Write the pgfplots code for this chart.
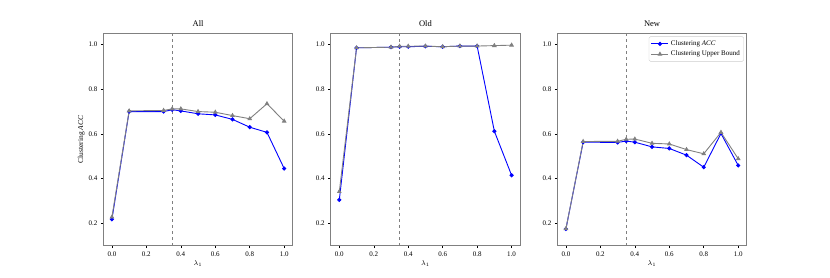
\documentclass[border=0pt]{standalone}
\usepackage{pgfplots}
\pgfplotsset{compat=1.18}
\usepackage{fontspec}
\setmainfont{Liberation Serif}
\definecolor{spine}{RGB}{128,128,128}
\definecolor{ubgray}{RGB}{128,128,128}

\pgfplotstableread{
x acc ub
0.0 0.218 0.228
0.1 0.700 0.703
0.3 0.700 0.705
0.35 0.708 0.712
0.4 0.703 0.712
0.5 0.690 0.700
0.6 0.685 0.697
0.7 0.665 0.682
0.8 0.630 0.668
0.9 0.607 0.735
1.0 0.445 0.657
}\allt
\pgfplotstableread{
x acc ub
0.0 0.305 0.342
0.1 0.985 0.985
0.3 0.988 0.988
0.35 0.990 0.992
0.4 0.990 0.992
0.5 0.992 0.993
0.6 0.990 0.990
0.7 0.993 0.993
0.8 0.993 0.993
0.9 0.612 0.995
1.0 0.415 0.997
}\oldt
\pgfplotstableread{
x acc ub
0.0 0.175 0.176
0.1 0.563 0.566
0.3 0.562 0.567
0.35 0.568 0.576
0.4 0.563 0.577
0.5 0.542 0.558
0.6 0.535 0.555
0.7 0.505 0.530
0.8 0.451 0.511
0.9 0.602 0.607
1.0 0.459 0.489
}\newt

\pgfplotsset{
  panel/.style={
    scale only axis,
    width=189.5pt, height=212.4pt,
    anchor=south west,
    xmin=-0.05, xmax=1.05, ymin=0.1, ymax=1.05,
    xtick={0,0.2,0.4,0.6,0.8,1.0},
    ytick={0.2,0.4,0.6,0.8,1.0},
    xticklabel style={/pgf/number format/.cd,fixed,fixed zerofill,precision=1},
    yticklabel style={/pgf/number format/.cd,fixed,fixed zerofill,precision=1},
    /pgf/number format/assume math mode=true,
    tick label style={font=\fontsize{7}{8}\selectfont},
    label style={font=\fontsize{7.5}{8}\selectfont},
    title style={font=\fontsize{8.5}{9}\selectfont, yshift=-3pt},
    axis line style={spine, line width=0.9pt},
    tick align=outside, tick pos=left,
    major tick length=2.5pt,
    tick style={black, line width=0.5pt},
    xlabel={$\lambda_1$},
    xlabel style={yshift=3pt},
    clip=false,
  },
  accline/.style={blue, line width=0.9pt, mark=*, mark size=1.6pt, mark options={solid}},
  ubline/.style={ubgray, line width=0.9pt, mark=triangle*, mark size=1.9pt, mark options={solid}},
}

\begin{document}
\begin{tikzpicture}[x=1pt,y=1pt]
\path[use as bounding box] (0,0) rectangle (830,277);

\begin{axis}[panel, at={(103.3pt,31.3pt)}, title={All}, ylabel={Clustering \textit{ACC}}, ylabel style={yshift=-3pt}]
\addplot[accline] table[x=x,y=acc]{\allt};
\addplot[ubline] table[x=x,y=ub]{\allt};
\draw[spine, dashed, line width=0.9pt] (axis cs:0.35,0.1) -- (axis cs:0.35,1.05);
\end{axis}

\begin{axis}[panel, at={(330.7pt,31.3pt)}, title={Old}]
\addplot[accline] table[x=x,y=acc]{\oldt};
\addplot[ubline] table[x=x,y=ub]{\oldt};
\draw[spine, dashed, line width=0.9pt] (axis cs:0.35,0.1) -- (axis cs:0.35,1.05);
\end{axis}

\begin{axis}[panel, at={(557.3pt,31.3pt)}, title={New},
  legend style={at={(0.985,0.985)}, anchor=north east, font=\fontsize{7}{8}\selectfont,
    draw=black!20, rounded corners=1.5pt, row sep=0pt, inner sep=2pt},
  legend cell align=left]
\addplot[accline] table[x=x,y=acc]{\newt};
\addlegendentry{Clustering \textit{ACC}}
\addplot[ubline] table[x=x,y=ub]{\newt};
\addlegendentry{Clustering Upper Bound}
\draw[spine, dashed, line width=0.9pt] (axis cs:0.35,0.1) -- (axis cs:0.35,1.05);
\end{axis}
\end{tikzpicture}
\end{document}
